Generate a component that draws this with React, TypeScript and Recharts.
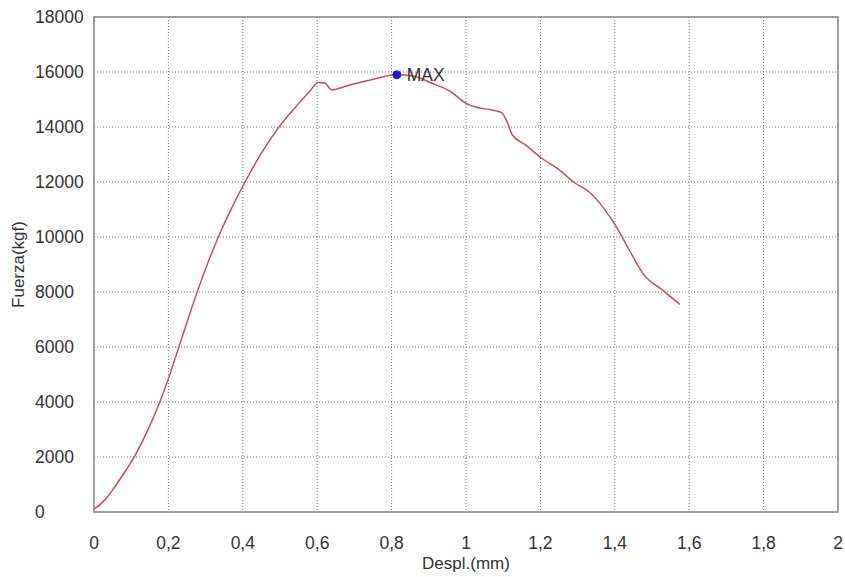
import React from 'react';
import {
  CartesianGrid,
  Label,
  Line,
  LineChart,
  ReferenceArea,
  ReferenceDot,
  XAxis,
  YAxis,
} from 'recharts';

// displacement (mm) and force (kgf)
const displ = [
  0, 0.03, 0.06, 0.085, 0.11, 0.14, 0.177, 0.2, 0.227, 0.25, 0.276, 0.31, 0.344,
  0.37, 0.406, 0.45, 0.5, 0.55, 0.58, 0.603, 0.62, 0.639, 0.68, 0.74, 0.814,
  0.86, 0.903, 0.957, 1.002, 1.03, 1.07, 1.096, 1.11, 1.125, 1.16, 1.2, 1.25,
  1.289, 1.333, 1.37, 1.405, 1.44, 1.477, 1.53, 1.575,
];
const force = [
  100, 450, 1000, 1500, 2050, 2850, 4000, 4850, 5950, 6900, 7950, 9200, 10300,
  11050, 12000, 13050, 14050, 14850, 15300, 15620, 15600, 15350, 15500, 15700,
  15900, 15850, 15620, 15300, 14850, 14710, 14620, 14520, 14200, 13700, 13350,
  12900, 12450, 12000, 11620, 11050, 10350, 9500, 8650, 8050, 7550,
];

const xTicks = [0, 0.2, 0.4, 0.6, 0.8, 1, 1.2, 1.4, 1.6, 1.8, 2];
const yTicks = [0, 2000, 4000, 6000, 8000, 10000, 12000, 14000, 16000, 18000];

const maxX = 0.814;
const maxY = 15900;

const data = displ.map((d, i) => ({ d, f: force[i] }));

const FONT = '"Liberation Sans", Arial, sans-serif';
const TXT = '#333';

const YTick = (props: any) => (
  <text x={35} y={props.y} dy='0.35em' textAnchor='start' fontSize={17.5} fill={TXT} fontFamily={FONT}>
    {props.payload.value}
  </text>
);

const XTick = (props: any) => (
  <text x={props.x} y={props.y + 23} dy='0.35em' textAnchor='middle' fontSize={17.5} fill={TXT} fontFamily={FONT}>
    {String(props.payload.value).replace('.', ',')}
  </text>
);

export default function App() {
  return (
    <div style={{ position: 'absolute', left: 0, top: 0, background: '#fff', fontFamily: FONT }}>
      <LineChart width={845} height={577} data={data} margin={{ top: 17, right: 7, left: 0, bottom: 0 }}>
        <CartesianGrid stroke='#777' strokeDasharray='1 2' />
        <XAxis
          type='number'
          dataKey='d'
          domain={[0, 2]}
          ticks={xTicks}
          tick={<XTick />}
          tickLine={false}
          axisLine={false}
          height={65}
        >
          <Label
            content={(p: any) => (
              <text x={p.viewBox.x + p.viewBox.width / 2} y={p.viewBox.y + 51} dy='0.35em' textAnchor='middle' fontSize={17} fill={TXT} fontFamily={FONT}>
                Despl.(mm)
              </text>
            )}
          />
        </XAxis>
        <YAxis
          type='number'
          domain={[0, 18000]}
          ticks={yTicks}
          tick={<YTick />}
          tickLine={false}
          axisLine={false}
          width={94}
        >
          <Label
            content={(p: any) => {
              const cx = p.viewBox.x + 18;
              const cy = p.viewBox.y + p.viewBox.height / 2;
              return (
                <text x={cx} y={cy} dy='0.35em' textAnchor='middle' fontSize={17} fill={TXT} fontFamily={FONT} transform={`rotate(-90 ${cx} ${cy})`}>
                  Fuerza(kgf)
                </text>
              );
            }}
          />
        </YAxis>
        <ReferenceArea x1={0} x2={2} y1={0} y2={18000} fill='none' stroke='#888' strokeWidth={1.5} ifOverflow='visible' />
        <Line
          type='monotone'
          dataKey='f'
          stroke='#cf4a57'
          strokeWidth={1.5}
          dot={false}
          isAnimationActive={false}
        />
        <ReferenceDot
          x={maxX}
          y={maxY}
          r={4}
          fill='#1a1ae6'
          stroke='#1a1ae6'
          label={{ value: 'MAX', position: 'right', offset: 6, fontSize: 17.5, fill: TXT, fontFamily: FONT }}
        />
      </LineChart>
    </div>
  );
}
